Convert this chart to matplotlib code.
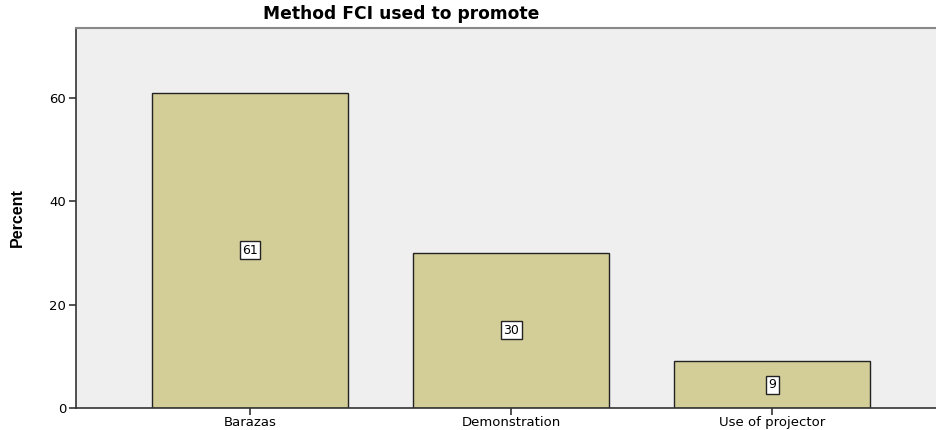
import matplotlib
matplotlib.use("Agg")
import matplotlib.pyplot as plt

categories = ["Barazas", "Demonstration", "Use of projector"]
percent = [61, 30, 9]
value_labels = ["61", "30", "9"]
yticks = [0, 20, 40, 60]

plt.rcParams['font.family'] = ['DejaVu Sans']

fig = plt.figure(figsize=(9.36, 4.30), dpi=100)
ax = fig.add_axes([76/936, 22/430, 1 - 76/936, 380/430])
ax.set_facecolor('#efefef')

x = list(range(len(categories)))
ax.bar(x, percent, width=0.75, color='#d3cd98', edgecolor='#222222', linewidth=1.0, zorder=2)
for xi, v, lab in zip(x, percent, value_labels):
    ax.text(xi, v / 2, lab, ha='center', va='center', fontsize=9, zorder=3,
            bbox=dict(boxstyle='square,pad=0.2', facecolor='white', edgecolor='#222222', linewidth=1.0))

ax.set_xlim(-0.667, 2.628)
ax.set_ylim(0, 73.5)
ax.set_xticks(x)
ax.set_xticklabels(categories, fontsize=9.5)
ax.set_yticks(yticks)
ax.set_yticklabels([str(t) for t in yticks], fontsize=9.5)
ax.tick_params(axis='x', direction='out', length=5, width=1.2, color='#333333', pad=0.5)
ax.tick_params(axis='y', direction='out', length=5, width=1.2, color='#333333', pad=2)

for side in ['left', 'bottom']:
    ax.spines[side].set_color('#333333')
    ax.spines[side].set_linewidth(1.2)
ax.spines['top'].set_color('#888888')
ax.spines['top'].set_linewidth(1.5)
ax.spines['right'].set_visible(False)

fig.text(17/936, 1 - 218/430, 'Percent', rotation=90, ha='center', va='center',
         fontsize=11.5, fontweight='heavy', family=['Liberation Sans Narrow', 'Liberation Sans', 'DejaVu Sans'])
fig.text(401/936, 1 - 14/430, 'Method FCI used to promote', ha='center', va='center',
         fontsize=12.3, fontweight='bold')

fig.savefig('out.png', dpi=100)
